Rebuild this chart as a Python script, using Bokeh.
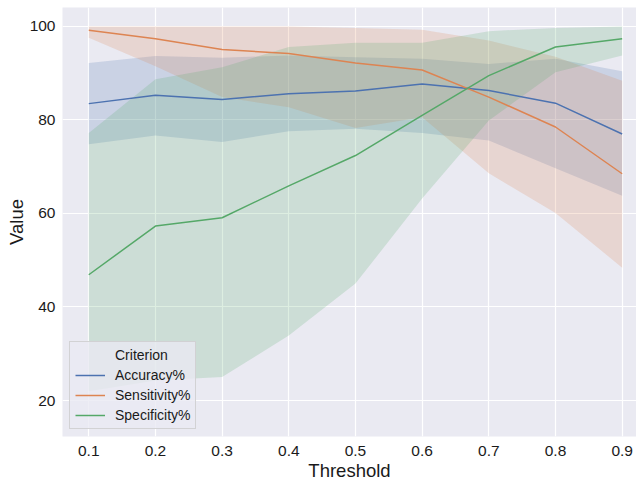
from bokeh.plotting import figure
from bokeh.models import Range1d, FixedTicker, Legend, LegendItem
from bokeh.embed import file_html
from bokeh.resources import INLINE

thresholds = [0.1, 0.2, 0.3, 0.4, 0.5, 0.6, 0.7, 0.8, 0.9]
x_tick_labels = ["0.1", "0.2", "0.3", "0.4", "0.5", "0.6", "0.7", "0.8", "0.9"]
y_ticks = [20, 40, 60, 80, 100]

accuracy = [83.5, 85.3, 84.4, 85.6, 86.2, 87.7, 86.3, 83.6, 77.0]
accuracy_lo = [74.8, 76.7, 75.3, 77.6, 78.1, 77.2, 75.6, 69.7, 63.8]
accuracy_hi = [92.2, 93.7, 93.3, 93.8, 93.4, 93.1, 92.0, 93.1, 90.4]

sensitivity = [99.2, 97.4, 95.1, 94.2, 92.2, 90.7, 84.9, 78.5, 68.5]
sensitivity_lo = [97.6, 91.5, 84.9, 82.7, 78.3, 80.6, 68.6, 60.1, 48.4]
sensitivity_hi = [100.0, 100.0, 100.0, 100.0, 99.7, 99.3, 97.0, 93.5, 88.4]

specificity = [46.9, 57.3, 59.1, 65.9, 72.4, 81.0, 89.5, 95.6, 97.4]
specificity_lo = [22.0, 24.3, 25.0, 33.9, 45.0, 63.2, 79.9, 90.2, 93.8]
specificity_hi = [77.2, 88.7, 91.3, 95.6, 96.5, 96.5, 99.0, 99.7, 100.0]

legend_title = "Criterion"
series_names = ["Accuracy%", "Sensitivity%", "Specificity%"]
colors = ["#4c72b0", "#dd8452", "#55a868"]

FONT = "Liberation Sans"
TXT = "#1a1a1a"

p = figure(width=636, height=483, output_backend="svg", toolbar_location=None,
           x_range=Range1d(0.0606, 0.9215), y_range=Range1d(12.30, 104.06),
           min_border_left=62, min_border_right=0, min_border_top=7, min_border_bottom=47)

p.background_fill_color = "#eaeaf2"
p.border_fill_color = "white"
p.outline_line_color = None

for ax in (p.xaxis, p.yaxis):
    ax.axis_line_color = None
    ax.major_tick_line_color = None
    ax.minor_tick_line_color = None
    ax.major_tick_out = 0
    ax.major_tick_in = 0
    ax.minor_tick_out = 0
    ax.minor_tick_in = 0
    ax.major_label_text_font = FONT
    ax.major_label_text_font_size = "15.5px"
    ax.major_label_text_color = TXT
    ax.axis_label_text_font = FONT
    ax.axis_label_text_font_size = "18.5px"
    ax.axis_label_text_font_style = "normal"
    ax.axis_label_text_color = TXT

p.xaxis.ticker = FixedTicker(ticks=thresholds)
p.xaxis.major_label_overrides = {t: l for t, l in zip(thresholds, x_tick_labels)}
p.yaxis.ticker = FixedTicker(ticks=y_ticks)
p.xaxis.axis_label = "Threshold"
p.yaxis.axis_label = "Value"
p.xaxis.major_label_standoff = 9
p.xaxis.axis_label_standoff = 1
p.yaxis.major_label_standoff = 7
p.yaxis.axis_label_standoff = 0

p.xgrid.grid_line_color = "white"
p.ygrid.grid_line_color = "white"
p.xgrid.grid_line_width = 1.2
p.ygrid.grid_line_width = 1.2

means = [accuracy, sensitivity, specificity]
los = [accuracy_lo, sensitivity_lo, specificity_lo]
his = [accuracy_hi, sensitivity_hi, specificity_hi]

for lo, hi, c in zip(los, his, colors):
    p.varea(x=thresholds, y1=lo, y2=hi, fill_color=c, fill_alpha=0.2)

# invisible handle carrying the legend title, as seaborn does
title_r = p.line(x=thresholds, y=accuracy, line_alpha=0)
items = [LegendItem(label=legend_title, renderers=[title_r])]
for m, c, name in zip(means, colors, series_names):
    r = p.line(x=thresholds, y=m, line_color=c, line_width=1.5)
    items.append(LegendItem(label=name, renderers=[r]))

legend = Legend(items=items, location=(7, 7))
legend.label_text_font = FONT
legend.label_text_font_size = "14px"
legend.label_text_color = TXT
legend.label_height = 16
legend.glyph_height = 16
legend.glyph_width = 30
legend.label_standoff = 10
legend.spacing = 4
legend.padding = 5
legend.margin = 0
legend.background_fill_color = "#eaeaf2"
legend.background_fill_alpha = 0.8
legend.border_line_color = "#cccccc"
legend.border_line_alpha = 0.8
p.add_layout(legend, "center")

open("out.html", "w").write(file_html(p, INLINE))
